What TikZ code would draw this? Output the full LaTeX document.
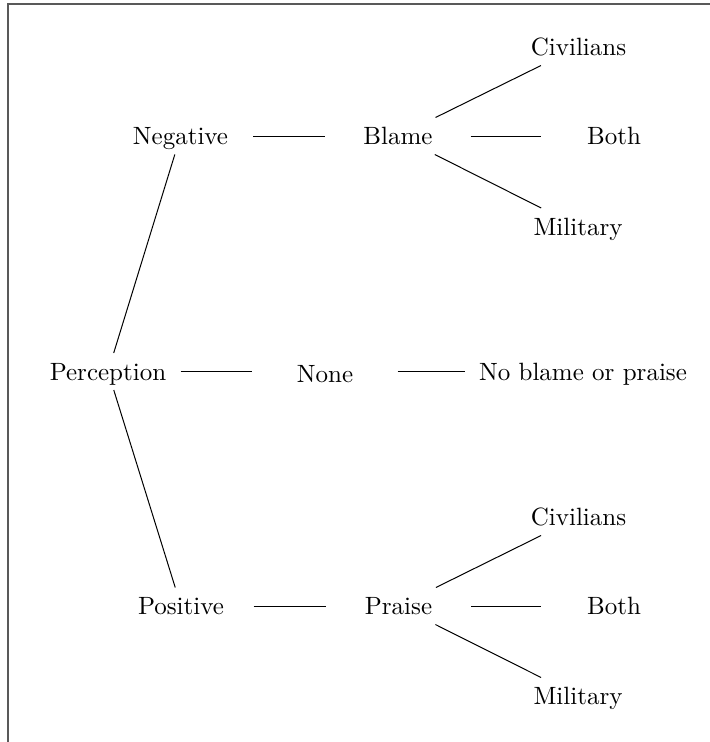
\documentclass[tikz,border=0pt]{standalone}
\begin{document}
\begin{tikzpicture}[x=0.4pt,y=-0.4pt,
  lbl/.style={rectangle, inner xsep=5.6pt, inner ysep=3pt, minimum width=57.6pt, minimum height=14.4pt, text height=6.8pt, text depth=0pt},
  conn/.style={draw=black, line width=0.4pt},
  frameline/.style={draw=black!65, line width=0.5pt}]
\useasboundingbox (0,0) rectangle (710,742);
\draw[frameline] (8,742) -- (8,4) -- (710,4);
\node[lbl] (perc) at (108,371.5) {Perception};
\node[lbl] (neg) at (180.5,136) {Negative};
\node[lbl] (pos) at (181,606) {Positive};
\node[lbl, text height=8.8pt] (none) at (325,371.5) {None};
\node[lbl] (blame) at (398,136) {Blame};
\node[lbl] (praise) at (398.5,606) {Praise};
\node[lbl] (nobp) at (583,371.5) {No blame or praise};
\node[lbl] (civa) at (578.5,47) {Civilians};
\node[lbl] (botha) at (614,136) {Both};
\node[lbl] (mila) at (578,226.5) {Military};
\node[lbl] (civb) at (578.5,517) {Civilians};
\node[lbl] (bothb) at (614,606) {Both};
\node[lbl] (milb) at (578,696) {Military};
\draw[conn] (perc) -- (neg);
\draw[conn] (perc) -- (none);
\draw[conn] (perc) -- (pos);
\draw[conn] (neg) -- (blame);
\draw[conn] (none) -- (nobp);
\draw[conn] (pos) -- (praise);
\draw[conn] (blame) -- (civa);
\draw[conn] (blame) -- (botha);
\draw[conn] (blame) -- (mila);
\draw[conn] (praise) -- (civb);
\draw[conn] (praise) -- (bothb);
\draw[conn] (praise) -- (milb);
\end{tikzpicture}
\end{document}
